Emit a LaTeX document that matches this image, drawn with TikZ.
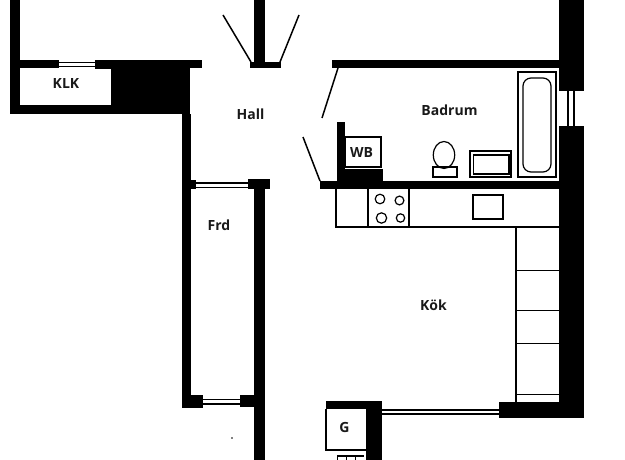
\documentclass[tikz,border=0pt]{standalone}
\usepackage{fontspec}
\setsansfont{Open Sans}
\usetikzlibrary{calc}
\tikzset{
  wall/.style={fill=black,draw=none},
  fixture/.style={draw=black,line width=1.2pt,fill=none},
  glass/.style={draw=black,line width=1.2pt},
  door/.style={draw=black,line width=1.5pt},
  roomlabel/.style={font=\sffamily\bfseries\fontsize{14}{16}\selectfont,inner sep=0pt,text=black!90}
}
\begin{document}
\begin{tikzpicture}[x=1pt,y=-1pt]
  \useasboundingbox (0,0) rectangle (625,460);
  % walls
  \fill[wall] (10,0) rectangle (20,114);
  \fill[wall] (10,105) rectangle (190,114);
  \fill[wall] (111,60) rectangle (190,105);
  \fill[wall] (20,60) rectangle (59,68.5);
  \fill[wall] (95,60) rectangle (111,69);
  \fill[wall] (190,60) rectangle (201.5,68);
  \fill[wall] (182,114) rectangle (190.5,408);
  \fill[wall] (254,0) rectangle (265,62);
  \fill[wall] (250,62) rectangle (281,68);
  \fill[wall] (190,180) rectangle (196,189);
  \fill[wall] (248,179.5) rectangle (270,189);
  \fill[wall] (253.5,189) rectangle (265,460);
  \fill[wall] (190,395) rectangle (203,408);
  \fill[wall] (240,395) rectangle (253.5,407);
  \fill[wall] (332,60) rectangle (558.5,68);
  \fill[wall] (558.5,0) rectangle (584,91);
  \fill[wall] (558.5,126) rectangle (584,418);
  \fill[wall] (320,181) rectangle (558.5,189);
  \fill[wall] (337,122) rectangle (345,181);
  \fill[wall] (345,169) rectangle (383,181);
  \fill[wall] (499,401.5) rectangle (558.5,418);
  \fill[wall] (326,401) rectangle (382,409);
  \fill[wall] (366,409) rectangle (382,460);
  % windows
  \draw[glass] (59,62.5) -- (95,62.5) (59,66.5) -- (95,66.5);
  \draw[glass] (196,183) -- (248,183) (196,187.5) -- (248,187.5);
  \draw[glass] (203,399.5) -- (240,399.5) (203,404) -- (240,404);
  \draw[glass] (382,410) -- (499,410) (382,414) -- (499,414);
  \draw[glass] (568,91) -- (568,126) (574,91) -- (574,126);
  % doors
  \draw[door] (223,15) -- (251,62);
  \draw[door] (299,15) -- (280,62);
  \draw[door] (338,68) -- (322,118);
  \draw[door] (303,137) -- (320,181);
  % bathroom
  \draw[fixture] (345,137) rectangle (381,167);
  \draw[fixture] (444,155) ellipse (10.7 and 13.5);
  \draw[fixture] (433,167) rectangle (457,177);
  \draw[fixture] (470,151) rectangle (511,177);
  \draw[fixture] (473.5,155) rectangle (509,174);
  \draw[fixture] (518,72) rectangle (556,177);
  \draw[fixture,rounded corners=8pt] (523,78) rectangle (551,172);
  % kitchen
  \draw[fixture] (336,189) -- (336,227) -- (558.5,227);
  \draw[fixture] (368,189) -- (368,227) (409,189) -- (409,227);
  \foreach \cx/\cy/\crad in {380/199/4.8,399.5/200.5/4.4,381.5/218/5.2,400.5/218/4.2}
    \draw[fixture] (\cx,\cy) circle (\crad);
  \draw[fixture] (473,195) rectangle (503,219);
  \draw[fixture] (516,227) -- (516,401.5);
  \foreach \shelfy in {270.5,310.5,343.5,394.5}
    \draw[fixture] (516,\shelfy) -- (558.5,\shelfy);
  % closet below the kitchen
  \draw[fixture] (326,409) -- (326,450) -- (366,450);
  \draw[fixture] (337.5,460) -- (337.5,456) -- (364,456);
  \draw[fixture] (346.5,456) -- (346.5,460) (355.5,456) -- (355.5,460);
  \fill (232,438) circle (0.8);
  % rooms
  \node[roomlabel] (klk) at (66,84) {KLK};
  \node[roomlabel] (hall) at (250.5,114.5) {Hall};
  \node[roomlabel] (frd) at (219,225) {Frd};
  \node[roomlabel] (badrum) at (449.5,110.5) {Badrum};
  \node[roomlabel] (wb) at (361.5,153) {WB};
  \node[roomlabel] (kok) at (433.5,305) {Kök};
  \node[roomlabel] (g) at (344.5,427) {G};
\end{tikzpicture}
\end{document}
